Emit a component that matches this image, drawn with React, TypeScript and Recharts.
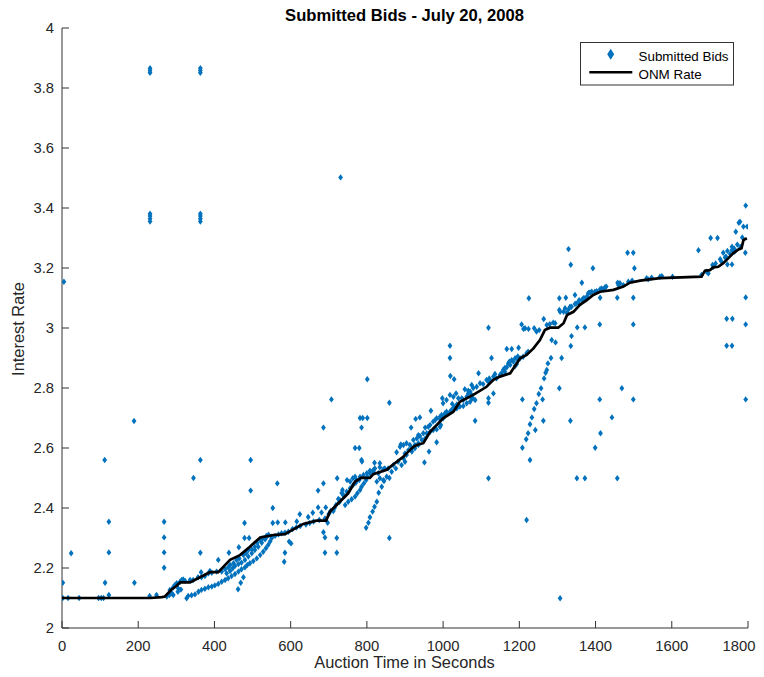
import React from 'react';
import { ScatterChart, Scatter, XAxis, YAxis } from 'recharts';

const xTicks = [0, 200, 400, 600, 800, 1000, 1200, 1400, 1600, 1800];
const yTicks = [2, 2.2, 2.4, 2.6, 2.8, 3, 3.2, 3.4, 3.6, 3.8, 4];

const outlierBids: [number, number][] = [
  [5, 3.154], [231, 3.866], [231, 3.858], [231, 3.851], [231, 3.381], [231, 3.373], [231, 3.364], [231, 3.355],
  [363, 3.866], [363, 3.858], [363, 3.851], [363, 3.381], [363, 3.373], [363, 3.364], [363, 3.355],
  [731, 3.502], [189, 2.69], [112, 2.56], [113, 2.151], [123, 2.354], [123, 2.252], [123, 2.11], [24, 2.249],
  [2, 2.151], [190, 2.151], [2, 2.1], [16, 2.1], [45, 2.1], [96, 2.1], [103, 2.1], [109, 2.1], [230, 2.107],
  [248, 2.11], [268, 2.354], [268, 2.302], [268, 2.252], [268, 2.201], [345, 2.5], [363, 2.56], [363, 2.251],
  [495, 2.56], [495, 2.458], [1307, 2.099], [1219, 2.36], [1119, 2.499], [1119, 3.001],
];

const earlyBids: [number, number][] = [
  [275, 2.105], [282, 2.11], [288, 2.116], [292, 2.11], [304, 2.121], [312, 2.128],
  [283, 2.127], [292, 2.136], [296, 2.143], [301, 2.149], [305, 2.132], [310, 2.154], [314, 2.16], [318, 2.162],
  [323, 2.157], [336, 2.16], [344, 2.16], [357, 2.169], [366, 2.169], [375, 2.173], [384, 2.182], [393, 2.184],
  [406, 2.188], [419, 2.188], [428, 2.196], [436, 2.202], [441, 2.21], [450, 2.216], [458, 2.227], [465, 2.232],
  [476, 2.243], [483, 2.249], [489, 2.26], [498, 2.262], [506, 2.271], [512, 2.284], [520, 2.293], [527, 2.299],
  [536, 2.307], [542, 2.311], [550, 2.304], [559, 2.307], [568, 2.312], [576, 2.316], [585, 2.318], [594, 2.321],
  [327, 2.099], [331, 2.107], [340, 2.109], [349, 2.112], [358, 2.121], [366, 2.127], [375, 2.131], [384, 2.136],
  [393, 2.138], [401, 2.142], [410, 2.147], [419, 2.154], [428, 2.16], [436, 2.166], [445, 2.173], [454, 2.18],
  [463, 2.188], [471, 2.196], [480, 2.202], [486, 2.21], [493, 2.216], [502, 2.223], [511, 2.232], [520, 2.243],
  [528, 2.254], [535, 2.266], [541, 2.277], [546, 2.288], [550, 2.299],
  [432, 2.182], [441, 2.19], [448, 2.199], [454, 2.207], [463, 2.213], [471, 2.218], [480, 2.227], [489, 2.238],
  [498, 2.249], [506, 2.26], [515, 2.271], [524, 2.284], [533, 2.296], [537, 2.304],
  [365, 2.186], [388, 2.19], [410, 2.227], [438, 2.251], [462, 2.129], [469, 2.151], [476, 2.169], [464, 2.269],
  [479, 2.35], [479, 2.3], [491, 2.3], [553, 2.4], [553, 2.35], [565, 2.482], [566, 2.352], [586, 2.352],
  [585, 2.251], [583, 2.221], [596, 2.288], [601, 2.282],
];

const midBids: [number, number][] = [
  [605, 2.33], [615, 2.335], [625, 2.34], [640, 2.345], [650, 2.35], [660, 2.355], [675, 2.36], [690, 2.365],
  [616, 2.355], [646, 2.37], [681, 2.385], [700, 2.38], [712, 2.39], [719, 2.41], [725, 2.43], [734, 2.45],
  [705, 2.39], [715, 2.4], [728, 2.42], [740, 2.44],
  [743, 2.41], [751, 2.421], [760, 2.429], [769, 2.438], [775, 2.449], [782, 2.46], [786, 2.471], [792, 2.482],
  [798, 2.493], [801, 2.504], [808, 2.516], [817, 2.527],
  [729, 2.427], [738, 2.443], [747, 2.454], [756, 2.466], [764, 2.477], [771, 2.484], [780, 2.493],
  [756, 2.488], [763, 2.499], [769, 2.504], [773, 2.493], [782, 2.504], [791, 2.51], [800, 2.516], [808, 2.524],
  [821, 2.532], [834, 2.536], [847, 2.532],
  [798, 2.334], [804, 2.351], [808, 2.369], [815, 2.388], [820, 2.404], [826, 2.421], [831, 2.451], [839, 2.471],
  [845, 2.49],
  [817, 2.521], [830, 2.516], [843, 2.529], [856, 2.532], [869, 2.543], [882, 2.554], [896, 2.566], [904, 2.577],
  [918, 2.588], [926, 2.599], [935, 2.61],
  [826, 2.488], [834, 2.499], [852, 2.504], [865, 2.521], [876, 2.532], [891, 2.543], [900, 2.554],
  [887, 2.604], [896, 2.61], [904, 2.616], [913, 2.61], [922, 2.627], [931, 2.632], [935, 2.643], [939, 2.64],
  [948, 2.649], [900, 2.582], [909, 2.593], [918, 2.599], [926, 2.61], [935, 2.616], [944, 2.627], [953, 2.632],
  [889, 2.612], [878, 2.586], [916, 2.668], [928, 2.697], [939, 2.702], [953, 2.668], [963, 2.588], [951, 2.552],
  [968, 2.724], [983, 2.619], [843, 2.493],
  [624, 2.379], [658, 2.384], [672, 2.458], [672, 2.402], [686, 2.668], [686, 2.482], [686, 2.319], [690, 2.302],
  [690, 2.251], [692, 2.402], [697, 2.351], [707, 2.762], [722, 2.499], [721, 2.3], [721, 2.251], [736, 2.46],
  [748, 2.493], [769, 2.6], [780, 2.6], [782, 2.7], [789, 2.7], [786, 2.668], [786, 2.56], [787, 2.555],
  [801, 2.829], [801, 2.7], [820, 2.551], [834, 2.549], [859, 2.751], [859, 2.3], [859, 2.5],
];

const lateBids: [number, number][] = [
  [961, 2.671], [966, 2.677], [974, 2.688], [979, 2.693], [983, 2.699], [992, 2.696], [1000, 2.699], [1005, 2.71],
  [1009, 2.716], [957, 2.649], [966, 2.654], [974, 2.66], [983, 2.662], [992, 2.671], [994, 2.677],
  [992, 2.704], [996, 2.71], [1005, 2.716], [1009, 2.721], [1018, 2.721], [1022, 2.727], [1029, 2.736],
  [1036, 2.732], [1044, 2.738], [1053, 2.74], [1062, 2.749], [1071, 2.754], [1075, 2.766],
  [1000, 2.749], [1009, 2.76], [1018, 2.777], [1027, 2.771], [1034, 2.782], [1040, 2.766], [1049, 2.766],
  [1036, 2.745], [1053, 2.76], [1062, 2.771], [1066, 2.782], [1071, 2.788],
  [1057, 2.796], [1066, 2.791], [1075, 2.81], [1088, 2.804], [1097, 2.816], [1114, 2.827], [1119, 2.821],
  [1075, 2.777], [1078, 2.766], [1084, 2.76], [1079, 2.8], [1105, 2.813], [1121, 2.832],
  [1123, 2.827], [1132, 2.838], [1136, 2.847], [1140, 2.832], [1149, 2.843], [1153, 2.849], [1162, 2.854],
  [1167, 2.869], [1171, 2.882], [1176, 2.877], [1184, 2.888], [1189, 2.873], [1193, 2.88], [1197, 2.893],
  [1202, 2.899], [1210, 2.904], [1219, 2.916], [1223, 2.921], [1158, 2.861], [1162, 2.867], [1174, 2.888],
  [1180, 2.893], [1189, 2.899], [1196, 2.905],
  [1018, 2.941], [1018, 2.9], [1127, 2.9], [1167, 2.93], [1180, 2.93], [1198, 2.934], [1029, 2.829], [1019, 2.84],
  [1093, 2.849], [1119, 2.766], [1119, 2.751], [1132, 2.782], [1084, 2.691], [998, 2.766], [1024, 2.747],
  [1208, 2.762], [1208, 2.601], [1218, 2.629], [1223, 2.649], [1228, 2.56], [1228, 2.679], [1233, 2.702],
  [1239, 2.73], [1242, 2.66], [1245, 2.749], [1251, 2.78], [1257, 2.799], [1261, 2.762], [1263, 2.691],
  [1265, 2.832], [1269, 2.851], [1272, 2.86], [1275, 2.882], [1283, 2.9], [1285, 2.96], [1295, 2.952],
  [1305, 2.799], [1311, 2.9],
  [1206, 3.012], [1211, 2.997], [1215, 2.999], [1224, 2.997], [1239, 2.999], [1245, 2.988], [1252, 2.993],
  [1264, 3.03], [1272, 3.01], [1280, 3.013], [1289, 3.018], [1294, 3.016], [1225, 3.099],
  [1305, 3.06], [1307, 3.054], [1320, 3.066], [1333, 3.071], [1349, 3.082], [1357, 3.093], [1372, 3.099],
  [1383, 3.118], [1390, 3.121], [1403, 3.123], [1416, 3.132], [1425, 3.136], [1460, 3.143], [1464, 3.149],
  [1473, 3.143], [1486, 3.154], [1496, 3.158], [1534, 3.166], [1547, 3.168],
  [1316, 3.054], [1325, 3.051], [1329, 3.062], [1337, 3.071], [1346, 3.08], [1355, 3.084], [1364, 3.093],
  [1368, 3.099], [1377, 3.104], [1381, 3.116], [1386, 3.118], [1398, 3.121], [1412, 3.129], [1421, 3.129],
  [1428, 3.138],
  [1329, 3.263], [1335, 3.211], [1484, 3.251], [1499, 3.251], [1502, 3.199], [1393, 3.199], [1364, 3.151],
  [1458, 3.151], [1457, 3.101], [1499, 3.101], [1499, 3.012], [1411, 3.012], [1412, 3.101], [1346, 3.11],
  [1322, 3.101], [1305, 3.099], [1352, 3.002], [1372, 3.002], [1337, 2.973], [1335, 2.94],
  [1334, 2.691], [1351, 2.499], [1372, 2.499], [1399, 2.601], [1411, 2.762], [1413, 2.649], [1443, 2.702],
  [1457, 2.499], [1469, 2.799], [1499, 2.762], [1744, 2.941], [1758, 2.941], [1794, 2.762],
  [1538, 3.162], [1569, 3.171], [1574, 3.173], [1602, 3.171], [1670, 3.259], [1678, 3.177], [1691, 3.188],
  [1696, 3.182], [1707, 3.21], [1709, 3.204], [1702, 3.3], [1720, 3.3], [1727, 3.229], [1735, 3.251],
  [1742, 3.238], [1746, 3.257], [1753, 3.247], [1746, 3.212], [1758, 3.212], [1758, 3.271], [1758, 3.26],
  [1764, 3.264], [1768, 3.321], [1772, 3.278], [1776, 3.351], [1779, 3.354], [1785, 3.302], [1788, 3.338],
  [1798, 3.338], [1793, 3.251], [1794, 3.408], [1794, 3.102], [1744, 3.031], [1759, 3.031], [1794, 3.012],
  [1715, 3.215], [1730, 3.222], [1740, 3.235], [1765, 3.255], [1780, 3.27],
];

const onmRate: [number, number][] = [
  [0, 2.1], [232, 2.1], [262, 2.103], [270, 2.105], [288, 2.129], [300, 2.14], [310, 2.152], [336, 2.152],
  [362, 2.169], [388, 2.186], [410, 2.186], [441, 2.227], [467, 2.243], [493, 2.271], [520, 2.302], [555, 2.31],
  [585, 2.313], [607, 2.329], [633, 2.347], [668, 2.358], [693, 2.358], [703, 2.388], [729, 2.421], [751, 2.449],
  [769, 2.488], [786, 2.501], [808, 2.5], [817, 2.513], [852, 2.527], [869, 2.545], [896, 2.571], [904, 2.582],
  [922, 2.604], [931, 2.61], [948, 2.616], [966, 2.654], [1000, 2.699], [1027, 2.721], [1044, 2.754],
  [1079, 2.777], [1114, 2.804], [1132, 2.827], [1149, 2.838], [1176, 2.849], [1202, 2.899], [1219, 2.91],
  [1237, 2.932], [1254, 2.96], [1267, 2.993], [1280, 3.001], [1302, 3.001], [1316, 3.016], [1325, 3.043],
  [1342, 3.054], [1359, 3.077], [1377, 3.093], [1394, 3.11], [1412, 3.121], [1447, 3.127], [1473, 3.138],
  [1490, 3.151], [1517, 3.158], [1569, 3.166], [1678, 3.171], [1687, 3.191], [1700, 3.193], [1709, 3.202],
  [1722, 3.204], [1735, 3.216], [1748, 3.232], [1761, 3.249], [1775, 3.262], [1783, 3.266], [1788, 3.293],
  [1797, 3.299],
];

const toPoints = (arr: [number, number][]) => arr.map(([t, v]) => ({ t, v }));
const bidData = toPoints([...outlierBids, ...earlyBids, ...midBids, ...lateBids]);
const onmData = toPoints(onmRate);

const BLUE = '#0072BD';
const FONT = '"Liberation Sans", Arial, Helvetica, sans-serif';
const TICK_FONT = 14.8;

const Diamond = (props: any) => {
  const { cx, cy } = props;
  if (cx == null || cy == null) return <g />;
  const hw = 2.4;
  const hh = 3.2;
  return (
    <path
      d={`M${cx},${cy - hh}L${cx + hw},${cy}L${cx},${cy + hh}L${cx - hw},${cy}Z`}
      fill={BLUE}
    />
  );
};

const NoDot = () => <g />;

const fmtY = (v: number) => String(Number(v.toFixed(1)));

// Bottom tick label; the last one is right-aligned so it stays inside the page
const XTick = (props: any) => {
  const { x, y, payload } = props;
  const last = payload.value === xTicks[xTicks.length - 1];
  return (
    <text
      x={last ? x + 7.5 : x}
      y={y}
      dy="0.71em"
      textAnchor={last ? 'end' : 'middle'}
      fill="#262626"
      fontSize={TICK_FONT}
      fontFamily={FONT}
    >
      {payload.value}
    </text>
  );
};

export default function App() {
  const W = 764;
  const H = 677;
  return (
    <div style={{ position: 'relative', width: W, height: H, margin: -8, overflow: 'hidden', background: '#fff' }}>
      <ScatterChart
        width={W}
        height={H}
        margin={{ top: 28, right: 16, bottom: 0, left: 0 }}
      >
        <XAxis
          type="number"
          dataKey="t"
          domain={[0, 1800]}
          ticks={xTicks}
          interval={0}
          allowDataOverflow
          height={49}
          tickSize={-7}
          tickMargin={19}
          axisLine={{ stroke: '#333', strokeWidth: 1 }}
          tickLine={{ stroke: '#333', strokeWidth: 1 }}
          tick={XTick}
        />
        <YAxis
          type="number"
          dataKey="v"
          domain={[2, 4]}
          ticks={yTicks}
          interval={0}
          allowDataOverflow
          width={62}
          tickSize={-7}
          tickMargin={15}
          tickFormatter={fmtY}
          axisLine={{ stroke: '#333', strokeWidth: 1 }}
          tickLine={{ stroke: '#333', strokeWidth: 1 }}
          tick={{ fill: '#262626', fontSize: TICK_FONT, fontFamily: FONT }}
        />
        <Scatter
          name="Submitted Bids"
          data={bidData}
          fill={BLUE}
          shape={Diamond}
          isAnimationActive={false}
        />
        <Scatter
          name="ONM Rate"
          data={onmData}
          fill="#000"
          line={{ stroke: '#000', strokeWidth: 2.7 }}
          lineType="joint"
          shape={NoDot}
          isAnimationActive={false}
        />
      </ScatterChart>
      <svg
        width={W}
        height={H}
        style={{ position: 'absolute', left: 0, top: 0, pointerEvents: 'none' }}
      >
        <text x={404.5} y={21} textAnchor="middle" fontFamily={FONT} fontWeight="bold" fontSize={16.6} fill="#000">
          Submitted Bids - July 20, 2008
        </text>
        <text x={404.5} y={667.5} textAnchor="middle" fontFamily={FONT} fontSize={16.4} fill="#262626">
          Auction Time in Seconds
        </text>
        <text
          x={0}
          y={0}
          transform="translate(23.8,329) rotate(-90)"
          textAnchor="middle"
          fontFamily={FONT}
          fontSize={16.4}
          fill="#262626"
        >
          Interest Rate
        </text>
        <rect x={580.5} y={42.5} width={153} height={42.5} fill="#fff" stroke="#333" strokeWidth={1} />
        <path d="M610.7,48.8L614.2,54.3L610.7,59.8L607.2,54.3Z" fill={BLUE} />
        <text x={638.5} y={60.8} fontFamily={FONT} fontSize={13.4} fill="#000">
          Submitted Bids
        </text>
        <line x1={589.3} y1={72.3} x2={632.3} y2={72.3} stroke="#000" strokeWidth={2.5} />
        <text x={638.5} y={78.8} fontFamily={FONT} fontSize={13.4} fill="#000">
          ONM Rate
        </text>
      </svg>
    </div>
  );
}
